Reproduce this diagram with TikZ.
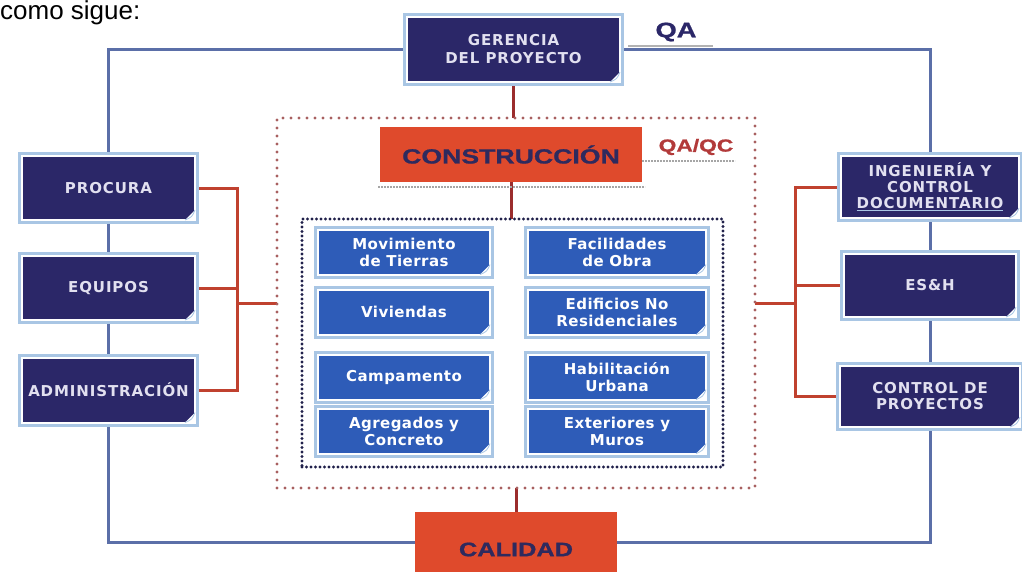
\documentclass[tikz,border=0pt]{standalone}
\usepackage{fontspec}
\usetikzlibrary{backgrounds}
\newfontfamily\boxfont[LetterSpace=6]{DejaVu Sans Bold}
\newfontfamily\cellfont[LetterSpace=3]{DejaVu Sans Bold}
\newfontfamily\heavy[FakeStretch=1.3,FakeBold=1]{Liberation Sans Bold}
\newfontfamily\plainfont{Liberation Sans}
\definecolor{navy}{HTML}{2B2768}
\definecolor{navytext}{HTML}{E2E0F0}
\definecolor{boxblue}{HTML}{2E5CB8}
\definecolor{ring}{HTML}{A9C6E4}
\definecolor{redorange}{HTML}{DF4A2C}
\definecolor{textnavy}{HTML}{2E2A5E}
\definecolor{frameblue}{HTML}{5B6FA8}
\definecolor{connred}{HTML}{C0412F}
\definecolor{darkred}{HTML}{9B2D2D}
\definecolor{dotred}{HTML}{A86060}
\definecolor{dotnavy}{HTML}{20204A}
\definecolor{qaqc}{HTML}{B23A3A}
\newcommand\pagecurl[1]{%
  \fill[white] ([xshift=-10pt]#1.south east) -- ([yshift=10pt]#1.south east) -- (#1.south east) -- cycle;
  \draw[ring, line width=0.8pt] ([xshift=-10pt]#1.south east) .. controls ([xshift=-3pt,yshift=3pt]#1.south east) .. ([yshift=10pt]#1.south east);}
\begin{document}
\begin{tikzpicture}[x=1pt,y=-1pt,
  navybox/.style={rectangle, fill=navy, draw=white, line width=2pt,
    preaction={draw=ring, line width=8pt}, inner sep=0pt, outer sep=0pt,
    align=center, text=navytext, font=\boxfont\fontsize{15}{16}\selectfont},
  bluebox/.style={navybox, fill=boxblue, text=white, minimum height=45pt,
    font=\cellfont\fontsize{15}{17}\selectfont},
  redbox/.style={rectangle, fill=redorange, inner sep=0pt, outer sep=0pt,
    text=textnavy, font=\heavy\fontsize{20.5}{24}\selectfont},
  redline/.style={draw=connred, line width=3pt},
  vred/.style={draw=darkred, line width=3pt},
  blueline/.style={draw=frameblue, line width=3pt},
  greyrule/.style={draw=gray!70, line width=1.5pt, dash pattern=on 2pt off 1pt},
  cframestyle/.style={draw=dotred, dash pattern=on 0pt off 8pt, line cap=round,
    line width=3.2pt, inner sep=0pt, outer sep=0pt},
  iframestyle/.style={draw=dotnavy, dash pattern=on 0pt off 4.5pt, line cap=round,
    line width=3.2pt, inner sep=0pt, outer sep=0pt}
]
\useasboundingbox (0,0) rectangle (1022,571);

\node[anchor=base west, inner sep=0pt, font=\plainfont\fontsize{26}{30}\selectfont] (intro) at (0,19) {como sigue:};

% top
\node[navybox, minimum width=213pt, minimum height=65pt] (ger) at (513.5,49.5) {GERENCIA\\[2pt]DEL PROYECTO};
\node[font=\heavy\fontsize{21}{24}\selectfont, text=navy] (qa) at (676,32) {QA};
\draw[draw=gray!60, line width=2pt] (628,46) -- (713,46);

% frames
\node[cframestyle, minimum width=478pt, minimum height=370pt] (cframe) at (516,303) {};
\node[iframestyle, minimum width=421pt, minimum height=248pt] (iframe) at (512.5,343) {};

% construccion
\node[redbox, minimum width=262pt, minimum height=55pt] (con) at (511,154.5) {CONSTRUCCIÓN};
\node[font=\heavy\fontsize{17.5}{20}\selectfont, text=qaqc] (qaqc) at (696,147) {QA/QC};
\draw[greyrule] (642,161) -- (735,161);
\draw[greyrule] (378,187) -- (645,187);

% cells
\node[bluebox, minimum width=172pt] (c1) at (404,252) {Movimiento\\de Tierras};
\node[bluebox, minimum width=178pt] (c2) at (617,252) {Facilidades\\de Obra};
\node[bluebox, minimum width=172pt] (c3) at (404,312) {Viviendas};
\node[bluebox, minimum width=178pt] (c4) at (617,312) {Edificios No\\Residenciales};
\node[bluebox, minimum width=172pt] (c5) at (404,377) {Campamento};
\node[bluebox, minimum width=178pt] (c6) at (617,377) {Habilitación\\Urbana};
\node[bluebox, minimum width=172pt] (c7) at (404,431) {Agregados y\\Concreto};
\node[bluebox, minimum width=178pt] (c8) at (617,431) {Exteriores y\\Muros};

% left boxes
\node[navybox, minimum width=173pt, minimum height=64pt] (proc) at (108.5,188) {PROCURA};
\node[navybox, minimum width=173pt, minimum height=64pt] (equ) at (108.5,288) {EQUIPOS};
\node[navybox, minimum width=173pt, minimum height=65pt] (adm) at (108.5,390) {ADMINISTRACIÓN};

% right boxes
\node[navybox, minimum width=178pt, minimum height=62pt] (ing) at (930,187)
  {INGENIERÍA Y\\CONTROL\\{\color{ring}\underline{\textcolor{navytext}{DOCUMENTARIO}}}};
\node[navybox, minimum width=172pt, minimum height=63pt] (esh) at (930,285.5) {ES\&H};
\node[navybox, minimum width=180pt, minimum height=61pt] (ctl) at (930,396.5) {CONTROL DE\\PROYECTOS};

% calidad
\node[redbox, font=\heavy\fontsize{19.5}{23}\selectfont, minimum width=202pt, minimum height=75pt] (cal) at (516,549.5) {CALIDAD};

\foreach \n in {ger,c1,c2,c3,c4,c5,c6,c7,c8,proc,equ,adm,ing,esh,ctl} {\pagecurl{\n}}

\begin{pgfonlayer}{background}
  % blue frame
  \draw[blueline] (ger.west) -| (proc.north);
  \draw[blueline] (proc.south) -- (equ.north);
  \draw[blueline] (equ.south) -- (adm.north);
  \draw[blueline] (adm.south) |- ([yshift=7.5pt]cal.west);
  \draw[blueline] (ger.east) -| (ing.north);
  \draw[blueline] (ing.south) -- (esh.north);
  \draw[blueline] (esh.south) -- (ctl.north);
  \draw[blueline] (ctl.south) |- ([yshift=7.5pt]cal.east);
  % red connectors
  \coordinate (lj) at (237,303);
  \coordinate (rj) at (795,303);
  \draw[redline] (proc.east) -| (lj);
  \draw[redline] (adm.east) -| (lj);
  \draw[redline] (equ.east) -- (equ.east -| lj);
  \draw[redline] (lj) -- (cframe.west);
  \draw[redline] (cframe.east) -- (rj);
  \draw[redline] (ing.west) -| (rj);
  \draw[redline] (ctl.west) -| (rj);
  \draw[redline] (esh.west) -- (esh.west -| rj);
  % vertical reds
  \draw[vred] (ger.south) -- (ger.south |- cframe.north);
  \draw[vred] (con.south) -- (con.south |- iframe.north);
  \draw[vred] (cframe.south) -- (cal.north);
\end{pgfonlayer}
\end{tikzpicture}
\end{document}
